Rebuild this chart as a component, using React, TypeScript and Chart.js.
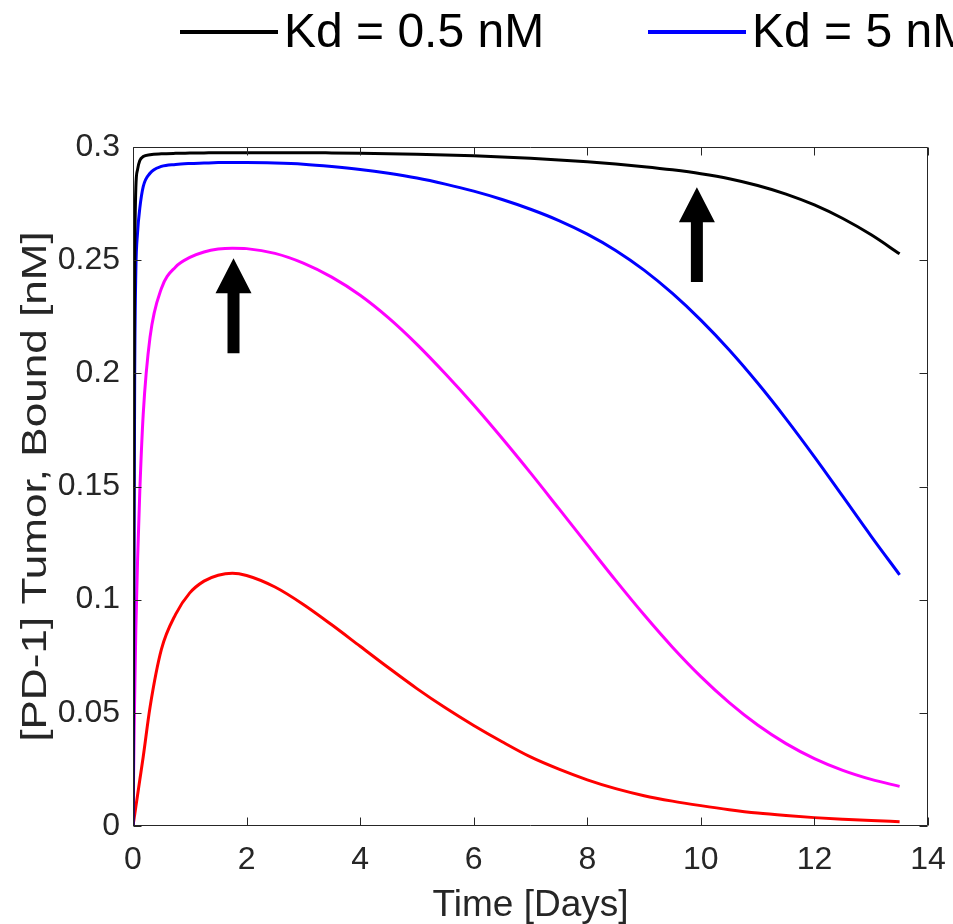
import React, { useEffect, useRef } from "react";
import { Chart, registerables } from "chart.js";

Chart.register(...registerables);

// ---- data ----
const timeDays = [
  0, 0.01, 0.02, 0.03, 0.05, 0.08, 0.12, 0.18, 0.3, 0.5, 0.75, 1, 1.25, 1.5, 1.75, 2,
  2.5, 3, 3.5, 4, 4.5, 5, 5.5, 6, 6.5, 7, 7.5, 8, 8.5, 9, 9.5, 10, 10.5, 11, 11.5, 12,
  12.5, 13, 13.5,
];

const kd05 = [
  0, 0.1, 0.2, 0.25, 0.282, 0.29, 0.294, 0.2958, 0.2966, 0.297, 0.2972, 0.2973, 0.2974,
  0.2975, 0.2975, 0.2975, 0.2975, 0.2975, 0.2974, 0.29725, 0.29705, 0.2968, 0.2965, 0.2961,
  0.2956, 0.295, 0.2943, 0.2935, 0.2925, 0.2913, 0.2899, 0.2882, 0.286, 0.283, 0.2792,
  0.2744, 0.2684, 0.2612, 0.2528,
];

const kd5 = [
  0, 0.06, 0.13, 0.2, 0.245, 0.262, 0.273, 0.2825, 0.2884, 0.2914, 0.2923, 0.2927, 0.2929,
  0.2931, 0.2931, 0.2931, 0.2929, 0.2924, 0.2914, 0.2901, 0.2884, 0.2863, 0.2836, 0.2805,
  0.2768, 0.2725, 0.2675, 0.2615, 0.2543, 0.2456, 0.2353, 0.2235, 0.2103, 0.1957, 0.1799,
  0.1631, 0.1456, 0.128, 0.111,
];

const kd50 = [
  0, 0.022, 0.042, 0.058, 0.087, 0.117, 0.148, 0.182, 0.216, 0.2375, 0.247, 0.2512, 0.2536,
  0.2549, 0.2553, 0.2551, 0.253, 0.2487, 0.2425, 0.2345, 0.2245, 0.2128, 0.1998, 0.186,
  0.1713, 0.156, 0.1402, 0.1243, 0.1085, 0.0933, 0.079, 0.066, 0.0545, 0.0446, 0.0364,
  0.0298, 0.0246, 0.0206, 0.0175,
];

const kd500 = [
  0, 0.0017, 0.0034, 0.0051, 0.0085, 0.0136, 0.0204, 0.0306, 0.0525, 0.078, 0.0935, 0.103,
  0.1082, 0.1108, 0.1117, 0.1107, 0.1056, 0.0979, 0.0889, 0.0794, 0.0699, 0.0607, 0.0522,
  0.0444, 0.0372, 0.0305, 0.0251, 0.0204, 0.0165, 0.0134, 0.011, 0.009, 0.0072, 0.0057,
  0.0046, 0.0037, 0.003, 0.0024, 0.0019,
];

const seriesLabels = ["Kd = 0.5 nM", "Kd = 5 nM", "Kd = 50 nM", "Kd = 500 nM"];
const seriesColors = ["#000000", "#0000ff", "#ff00ff", "#ff0000"];
const seriesValues = [kd05, kd5, kd50, kd500];

const xTickValues = [0, 2, 4, 6, 8, 10, 12, 14];
const yTickValues = [0, 0.05, 0.1, 0.15, 0.2, 0.25, 0.3];

const xTitle = "Time [Days]";
const yTitle = "[PD-1] Tumor, Bound [nM]";

// arrow annotations (data coordinates)
const arrowX = [1.77, 9.93];
const arrowTipY = [0.2509, 0.2822];
const arrowTailY = [0.2089, 0.2403];

const FONT = "'Liberation Sans', Arial, Helvetica, sans-serif";
const AXIS_COLOR = "#262626";

const matlabAxesPlugin = {
  id: "matlabAxes",
  afterDatasetsDraw(chart: any) {
    const { ctx, chartArea: a, scales } = chart;
    const x = scales.x;
    const y = scales.y;
    const tl = 8;
    ctx.save();
    ctx.strokeStyle = AXIS_COLOR;
    ctx.lineWidth = 1;
    const L = Math.round(a.left) + 0.5;
    const R = Math.round(a.right) - 0.5;
    const T = Math.round(a.top) + 0.5;
    const B = Math.round(a.bottom) - 0.5;
    ctx.beginPath();
    ctx.rect(L, T, R - L, B - T);
    for (const v of xTickValues) {
      const px = Math.round(x.getPixelForValue(v)) + 0.5;
      ctx.moveTo(px, B);
      ctx.lineTo(px, B - tl);
      ctx.moveTo(px, T);
      ctx.lineTo(px, T + tl);
    }
    for (const v of yTickValues) {
      const py = Math.round(y.getPixelForValue(v)) + 0.5;
      ctx.moveTo(L, py);
      ctx.lineTo(L + tl, py);
      ctx.moveTo(R, py);
      ctx.lineTo(R - tl, py);
    }
    ctx.stroke();

    // arrows
    ctx.fillStyle = "#000000";
    for (let i = 0; i < arrowX.length; i++) {
      const ax = x.getPixelForValue(arrowX[i]);
      const tip = y.getPixelForValue(arrowTipY[i]);
      const tail = y.getPixelForValue(arrowTailY[i]);
      const headLen = 35;
      const headHalf = 18;
      const shaftHalf = 6;
      ctx.beginPath();
      ctx.moveTo(ax, tip);
      ctx.lineTo(ax + headHalf, tip + headLen);
      ctx.lineTo(ax + shaftHalf, tip + headLen);
      ctx.lineTo(ax + shaftHalf, tail);
      ctx.lineTo(ax - shaftHalf, tail);
      ctx.lineTo(ax - shaftHalf, tip + headLen);
      ctx.lineTo(ax - headHalf, tip + headLen);
      ctx.closePath();
      ctx.fill();
    }
    ctx.restore();
  },
};

const yTitlePlugin = {
  id: "yTitle",
  afterDraw(chart: any) {
    const { ctx, chartArea: a } = chart;
    ctx.save();
    ctx.translate(36, (a.top + a.bottom) / 2);
    ctx.rotate(-Math.PI / 2);
    ctx.scale(1.26, 1);
    ctx.font = `35px ${FONT}`;
    ctx.fillStyle = AXIS_COLOR;
    ctx.textAlign = "center";
    ctx.textBaseline = "middle";
    ctx.fillText(yTitle, 0, 0);
    ctx.restore();
  },
};

const topLegendPlugin = {
  id: "topLegend",
  afterDraw(chart: any) {
    const ctx = chart.ctx;
    ctx.save();
    ctx.font = `48px ${FONT}`;
    ctx.textBaseline = "middle";
    ctx.textAlign = "left";
    chart.data.datasets.forEach((ds: any, i: number) => {
      const x0 = 180 + i * 468;
      if (x0 > chart.width) return;
      ctx.strokeStyle = ds.borderColor;
      ctx.lineWidth = 4;
      ctx.beginPath();
      ctx.moveTo(x0, 32);
      ctx.lineTo(x0 + 98, 32);
      ctx.stroke();
      ctx.fillStyle = "#000000";
      ctx.fillText(ds.label, x0 + 104, 34);
    });
    ctx.restore();
  },
};

export default function App() {
  const canvasRef = useRef<HTMLCanvasElement | null>(null);

  useEffect(() => {
    document.body.style.margin = "0";
    const canvas = canvasRef.current;
    if (!canvas) return;
    const datasets = seriesValues.map((vals, i) => ({
      label: seriesLabels[i],
      data: timeDays.map((t, k) => ({ x: t, y: vals[k] })),
      borderColor: seriesColors[i],
      backgroundColor: seriesColors[i],
      borderWidth: 3,
      pointRadius: 0,
      cubicInterpolationMode: "monotone" as const,
      fill: false,
    }));

    const chart = new Chart(canvas, {
      type: "line",
      data: { datasets },
      plugins: [matlabAxesPlugin, yTitlePlugin, topLegendPlugin],
      options: {
        animation: false,
        responsive: false,
        devicePixelRatio: 1,
        layout: { padding: { left: 0, top: 147, right: 25, bottom: 0 } },
        plugins: { legend: { display: false }, tooltip: { enabled: false } },
        scales: {
          x: {
            type: "linear",
            min: 0,
            max: 14,
            afterFit: (s: any) => {
              s.height = 98;
              s.paddingLeft = 0;
              s.paddingRight = 0;
            },
            afterBuildTicks: (s: any) => {
              s.ticks = xTickValues.map((v) => ({ value: v }));
            },
            grid: { display: false, drawTicks: false },
            border: { display: false },
            ticks: {
              padding: 15,
              color: AXIS_COLOR,
              font: { family: FONT, size: 32 },
              maxRotation: 0,
              callback: (v: any) => String(v),
            },
            title: {
              display: true,
              text: xTitle,
              color: AXIS_COLOR,
              font: { family: FONT, size: 37, lineHeight: 1 },
              padding: { top: 0, bottom: 0 },
            },
          },
          y: {
            type: "linear",
            min: 0,
            max: 0.3,
            afterFit: (s: any) => {
              s.width = 133;
              s.paddingTop = 0;
              s.paddingBottom = 0;
            },
            afterBuildTicks: (s: any) => {
              s.ticks = yTickValues.map((v) => ({ value: v }));
            },
            grid: { display: false, drawTicks: false },
            border: { display: false },
            ticks: {
              padding: 13,
              color: AXIS_COLOR,
              font: { family: FONT, size: 32 },
              callback: (v: any) => String(Number(Number(v).toFixed(2))),
            },
            title: { display: false },
          },
        },
      },
    });
    return () => chart.destroy();
  }, []);

  return (
    <div style={{ position: "absolute", left: 0, top: 0, width: 953, height: 924, background: "#ffffff" }}>
      <canvas ref={canvasRef} width={953} height={924} style={{ display: "block" }} />
    </div>
  );
}
